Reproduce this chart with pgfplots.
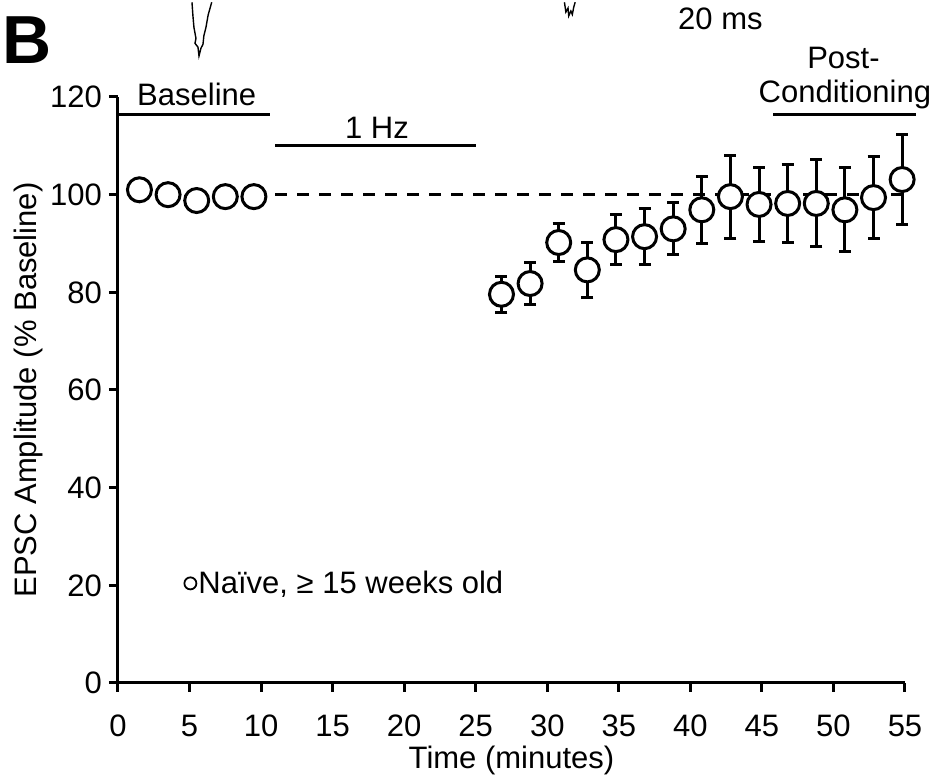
\documentclass[border=0pt]{standalone}
\usepackage{fontspec}
\setmainfont{Liberation Sans}
\usepackage{pgfplots}
\pgfplotsset{compat=1.18}

\pgfplotstableread{
x     y      e
1.5   101.0  0
3.5   100.0  0
5.5   98.8   0
7.5   99.6   0
9.5   99.6   0
26.8  79.6   3.7
28.8  81.8   4.3
30.8  90.2   3.8
32.8  84.6   5.6
34.8  90.8   5.1
36.8  91.4   5.8
38.8  93.0   5.3
40.8  96.9   6.9
42.8  99.6   8.5
44.8  98.0   7.5
46.8  98.2   8.0
48.8  98.2   8.9
50.8  96.9   8.6
52.8  99.4   8.4
54.8  103.1  9.2
}\naive

\newcommand{\lbl}{\fontsize{15.5}{18}\selectfont}

\begin{document}
\begin{tikzpicture}
\begin{axis}[
  name=ax,
  scale only axis,
  width=393.5pt, height=293pt,
  xmin=0, xmax=55, ymin=0, ymax=120,
  axis lines=left,
  axis line style={line width=1.5pt, -},
  xtick={0,5,...,55}, ytick={0,20,...,120},
  tick style={line width=1.5pt, black},
  tick align=outside,
  major tick length=4.5pt,
  ticklabel style={font=\lbl},
  xticklabel style={anchor=north, text height=11pt, text depth=0pt, yshift=-7.5pt},
  /pgf/number format/assume math mode=true,
  xlabel={Time (minutes)},
  ylabel={EPSC Amplitude (\% Baseline)},
  label style={font=\lbl},
  xlabel style={yshift=2pt},
  ylabel style={yshift=-3pt},
  clip=false,
  legend style={at={(axis cs:4.55,20.4)}, anchor=west, draw=none, fill=none,
    inner sep=0pt, font=\lbl, nodes={inner sep=0.6pt}},
  legend image code/.code={\draw[line width=0.9pt, fill=white] (0pt,0pt) circle (3pt);},
]
% reference line
\addplot[forget plot, black, line width=1.2pt, dash pattern=on 6pt off 5pt] coordinates {(11,100) (55,100)};

% error bars first, so that the open circles cover them
\addplot[forget plot, only marks, mark=none,
  error bars/.cd, y dir=both, y explicit,
  error bar style={line width=1.5pt, black},
  error mark=-, error mark options={rotate=90, line width=1.5pt, mark size=3pt, black}]
  table[x=x, y=y, y error=e] {\naive};

\addplot[only marks, mark=*, mark size=6pt,
  mark options={fill=white, draw=black, line width=1.5pt}]
  table[x=x, y=y] {\naive};
\addlegendentry{Naïve, ≥ 15 weeks old}

% period bars
\draw[line width=1.5pt] (axis cs:0,116.4) -- (axis cs:10.6,116.4);
\draw[line width=1.5pt] (axis cs:11,110) -- (axis cs:25,110);
\draw[line width=1.5pt] (axis cs:45.8,116.4) -- (axis cs:55.8,116.4);
\node[anchor=base, font=\lbl] at (axis cs:5.5,118.2) {Baseline};
\node[anchor=base, font=\lbl] at (axis cs:18.1,111.4) {1 Hz};
\node[anchor=base, font=\lbl] at (axis cs:50.7,125.8) {Post-};
\node[anchor=base, font=\lbl] at (axis cs:50.8,118.8) {Conditioning};

% panel letter, scale bar text and cut trace fragments
\node[anchor=base west, font=\fontsize{34}{40}\selectfont\bfseries, inner sep=0pt] at (axis cs:-8.1,126.8) {B};
\node[anchor=base, font=\lbl] at (axis cs:42.1,133.9) {20 ms};
\draw[line width=0.7pt] (axis cs:5.17,139.4) -- (axis cs:5.24,136.5) -- (axis cs:5.31,134.2)
  -- (axis cs:5.45,132.0) -- (axis cs:5.38,131.0) -- (axis cs:5.59,130.2) -- (axis cs:5.66,128.4)
  -- (axis cs:5.80,130.0) -- (axis cs:5.94,130.8) -- (axis cs:6.0,132.5) -- (axis cs:6.15,134.3)
  -- (axis cs:6.3,136.8) -- (axis cs:6.55,139.4);
\draw[line width=0.7pt] (axis cs:31.2,139.4) -- (axis cs:31.3,137.4) -- (axis cs:31.45,138.2)
  -- (axis cs:31.5,136.6) -- (axis cs:31.65,137.6) -- (axis cs:31.75,136.9) -- (axis cs:31.85,138.4) -- (axis cs:31.95,139.4);
\end{axis}
\pgfresetboundingbox
\path ([shift={(-59pt,-47pt)}]ax.south west) rectangle ([shift={(408pt,341.5pt)}]ax.south west);
\end{tikzpicture}
\end{document}
